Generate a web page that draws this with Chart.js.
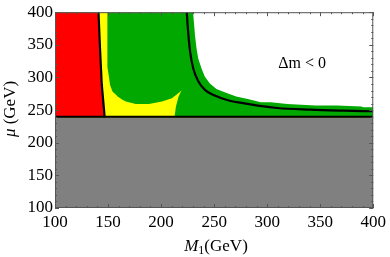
<!DOCTYPE html>
<html lang="en">
<head>
<meta charset="UTF-8">
<title>M1 - mu plane</title>
<style>
    html, body { margin: 0; padding: 0; background: #fff; }
    #wrap { width: 390px; height: 257px; }
</style>
</head>
<body>
<div id="wrap"><canvas id="regionChart" width="390" height="257"></canvas></div>
<script src="https://cdn.jsdelivr.net/npm/chart.js@4"></script>
<script>
    // axis ticks (GeV)
    const tickValues = [100, 150, 200, 250, 300, 350, 400];
    const minorStep = 10;
    const axisMin = 100;
    const axisMax = 400;

    // below this mu everything is excluded (grey)
    const muCut = 240;
    const muEdge = 238.6; // thin olive rim just under the cut

    // left black curve, bottom -> top
    const leftCurveM1 = [147.0, 146.6, 144.1, 142.6, 141.0];
    const leftCurveMu = [240, 243.6, 288.9, 338.7, 400];

    // right black curve, top -> bottom/right
    const rightCurveM1 = [224.2, 225.8, 227.4, 230.4, 235.1, 241.3, 250.6, 263.0, 281.7, 309.6, 340.7, 371.8, 400];
    const rightCurveMu = [400, 363.8, 338.9, 313.5, 294.2, 281.0, 272.3, 265.0, 259.5, 253.2, 250.7, 249.2, 248.2];

    // green / white edge
    const greenEdgeM1 = [230.1, 231.0, 232.0, 233.5, 235.1, 238.2, 241.3, 246.0, 252.2, 259.9, 270.8, 281.7, 294.0, 303.4, 319.0, 345.3, 365.5, 388.8, 390.4, 400];
    const greenEdgeMu = [400, 383.9, 363.8, 343.6, 328.6, 313.5, 301.0, 290.9, 282.4, 277.3, 271.0, 267.0, 262.2, 262.2, 259.2, 257.2, 257.2, 255.7, 254.2, 254.2];

    // yellow / green edge (top -> bowl -> spike -> down to the cut)
    const yellowEdgeM1 = [149.4, 149.4, 150.6, 151.9, 154.3, 157.5, 159.0, 163.6, 166.8, 176.1, 188.5, 200.9, 210.2, 218.0, 219.5, 216.5, 214.0, 212.7];
    const yellowEdgeMu = [400, 316.0, 303.5, 288.5, 278.3, 273.4, 270.8, 265.8, 263.3, 259.2, 259.2, 263.3, 268.3, 278.3, 281.0, 270.8, 255.7, 240];

    const zip = (xs, ys) => xs.map((x, i) => ({ x: x, y: ys[i] }));

    const leftCurve = zip(leftCurveM1, leftCurveMu);
    const rightCurve = zip(rightCurveM1, rightCurveMu);

    const greenShape = [{ x: axisMin, y: axisMax }]
        .concat(zip(greenEdgeM1, greenEdgeMu))
        .concat([{ x: axisMax, y: muCut }, { x: axisMin, y: muCut }]);

    const yellowShape = [{ x: axisMin, y: muCut }, { x: axisMin, y: axisMax }]
        .concat(zip(yellowEdgeM1, yellowEdgeMu));

    const redShape = [{ x: axisMin, y: muCut }, { x: axisMin, y: axisMax }]
        .concat(leftCurve.slice().reverse());

    const greyShape = [
        { x: axisMin, y: axisMin }, { x: axisMin, y: muCut },
        { x: axisMax, y: muCut }, { x: axisMax, y: axisMin }
    ];

    const cutLine = [{ x: axisMin, y: muCut }, { x: axisMax, y: muCut }];
    const rimLine = [{ x: axisMin, y: muEdge }, { x: axisMax, y: muEdge }];

    function region(data, color) {
        return { data: data, showLine: true, fill: 'shape', backgroundColor: color,
                 borderWidth: 0, borderColor: color, pointRadius: 0, tension: 0 };
    }
    function curve(data, color, width) {
        return { data: data, showLine: true, fill: false, borderColor: color,
                 borderWidth: width, pointRadius: 0, tension: 0 };
    }

    // frame, inward ticks, axis titles and the label
    const framePlugin = {
        id: 'frame',
        afterDraw(chart) {
            const { ctx, chartArea: a, scales: { x, y } } = chart;
            ctx.save();
            ctx.strokeStyle = '#555';
            ctx.lineWidth = 1;
            ctx.strokeRect(a.left + 0.5, a.top + 0.5, a.right - a.left - 1, a.bottom - a.top - 1);
            ctx.beginPath();
            for (let v = axisMin; v <= axisMax; v += minorStep) {
                const len = v % 50 === 0 ? 4 : 2;
                const px = Math.round(x.getPixelForValue(v)) + 0.5;
                const py = Math.round(y.getPixelForValue(v)) + 0.5;
                ctx.moveTo(px, a.bottom); ctx.lineTo(px, a.bottom - len);
                ctx.moveTo(px, a.top); ctx.lineTo(px, a.top + len);
                ctx.moveTo(a.left, py); ctx.lineTo(a.left + len, py);
                ctx.moveTo(a.right, py); ctx.lineTo(a.right - len, py);
            }
            ctx.stroke();

            ctx.fillStyle = '#000';
            ctx.textBaseline = 'alphabetic';

            // x title: M_1(GeV)
            const fItal = 'italic 17px "Liberation Serif"';
            const fNorm = '17px "Liberation Serif"';
            const fSub = '12px "Liberation Serif"';
            ctx.font = fItal; const wM = ctx.measureText('M').width;
            ctx.font = fSub; const w1 = ctx.measureText('1').width;
            ctx.font = fNorm; const wG = ctx.measureText('(GeV)').width;
            let sx = 216 - (wM + w1 + wG) / 2;
            const base = 251;
            ctx.font = fItal; ctx.fillText('M', sx, base); sx += wM;
            ctx.font = fSub; ctx.fillText('1', sx, base + 3); sx += w1;
            ctx.font = fNorm; ctx.fillText('(GeV)', sx, base);

            // y title: mu (GeV)
            ctx.save();
            ctx.translate(14.5, 109);
            ctx.rotate(-Math.PI / 2);
            ctx.font = fItal; const wMu = ctx.measureText('\u03bc').width;
            ctx.font = fNorm; const wT = ctx.measureText(' (GeV)').width;
            let ty = -(wMu + wT) / 2;
            ctx.font = fItal; ctx.fillText('\u03bc', ty, 0); ty += wMu;
            ctx.font = fNorm; ctx.fillText(' (GeV)', ty, 0);
            ctx.restore();

            // region label
            ctx.font = '16px "Liberation Serif"';
            ctx.textAlign = 'center';
            ctx.fillText('\u0394m < 0', x.getPixelForValue(333), y.getPixelForValue(322) + 5);
            ctx.restore();
        }
    };

    const rightStyle = curve(rightCurve, '#000', 2.2);
    rightStyle.cubicInterpolationMode = 'monotone';

    const ctx = document.getElementById('regionChart').getContext('2d');
    new Chart(ctx, {
        type: 'scatter',
        data: {
            datasets: [
                curve(cutLine, '#000', 2),
                rightStyle,
                curve(leftCurve, '#000', 2.2),
                curve(rimLine, '#8c8a2a', 1),
                region(greyShape, '#808080'),
                region(redShape, '#ff0000'),
                region(yellowShape, '#ffff00'),
                region(greenShape, '#00a800')
            ]
        },
        options: {
            responsive: false,
            animation: false,
            devicePixelRatio: 1,
            layout: { padding: { top: 9, right: 13, left: 0, bottom: 0 } },
            plugins: { legend: { display: false }, tooltip: { enabled: false } },
            scales: {
                x: {
                    type: 'linear', min: axisMin, max: axisMax,
                    afterBuildTicks: s => { s.ticks = tickValues.map(v => ({ value: v })); },
                    afterFit: s => { s.height = 49; },
                    grid: { display: false, drawTicks: false },
                    border: { display: false },
                    ticks: { padding: 4, color: '#000', maxRotation: 0,
                             font: { family: 'Liberation Serif', size: 17 } }
                },
                y: {
                    type: 'linear', min: axisMin, max: axisMax,
                    afterBuildTicks: s => { s.ticks = tickValues.map(v => ({ value: v })); },
                    afterFit: s => { s.width = 55; },
                    grid: { display: false, drawTicks: false },
                    border: { display: false },
                    ticks: { padding: 2, color: '#000',
                             font: { family: 'Liberation Serif', size: 17 } }
                }
            }
        },
        plugins: [framePlugin]
    });
</script>
</body>
</html>
